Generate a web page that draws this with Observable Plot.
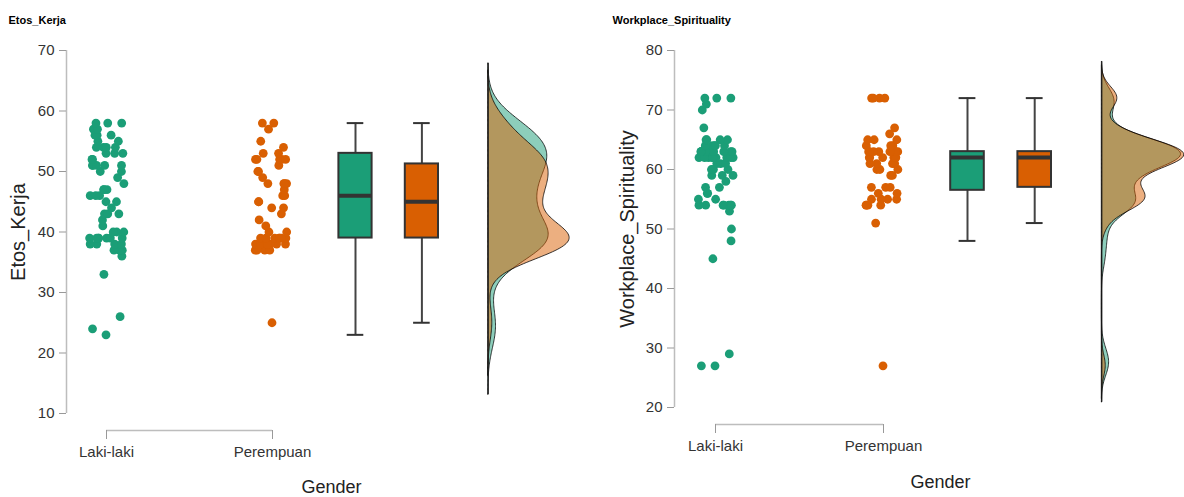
<!DOCTYPE html>
<html>
<head>
<meta charset="utf-8">
<script src="https://cdn.jsdelivr.net/npm/d3@7"></script>
<script src="https://cdn.jsdelivr.net/npm/@observablehq/plot@0.6"></script>
<style>
  html, body { margin: 0; padding: 0; background: #fff; }
  #wrap { display: flex; width: 1184px; height: 497px; }
  svg { font-family: "Liberation Sans", Arial, sans-serif; color: #333; }
</style>
</head>
<body>
<div id="wrap"></div>
<script>
// ---------------- data ----------------
const genders = ["Laki-laki", "Perempuan"];

const etosLaki = [23,24,26,33,36,37,37,37,37,38,38,38,38,39,39,39,39,39,39,39,40,40,40,41,42,43,43,43,44,45,45,46,46,46,47,47,47,48,49,50,50,51,51,51,51,51,52,52,53,53,53,54,54,54,54,55,55,56,56,56,57,57,58,58,58];
const etosPerempuan = [25,37,37,37,37,38,38,38,38,38,38,39,39,39,39,39,39,39,40,40,41,42,43,44,44,45,45,46,46,47,48,48,48,48,49,50,50,51,52,52,52,52,52,53,53,54,55,57,58,58];

const wsLaki = [27,27,29,45,48,50,53,54,54,54,54,54,54,54,55,55,56,56,57,57,58,59,59,59,60,60,60,61,61,61,62,62,62,62,62,62,62,62,62,62,63,63,63,63,63,63,63,63,63,63,64,64,64,64,64,65,65,65,65,67,70,71,72,72,72];
const wsPerempuan = [27,51,54,54,54,54,55,55,55,55,56,56,57,57,57,59,59,60,60,60,61,61,61,61,62,62,62,62,62,62,63,63,63,63,63,63,63,63,64,64,64,65,65,65,66,67,72,72,72,72];

// box statistics [lower whisker, Q1, median, Q3, upper whisker]
const etosBoxLaki = [23, 39, 46, 53, 58];
const etosBoxPerempuan = [25, 39, 45, 51.25, 58];
const wsBoxLaki = [48, 56.5, 62, 63, 72];
const wsBoxPerempuan = [51, 57, 62, 63, 72];

const etosTicks = [10, 20, 30, 40, 50, 60, 70];
const wsTicks = [20, 30, 40, 50, 60, 70, 80];

const colors = ["#1b9e77", "#d95f02"];

// ---------------- helpers ----------------
function bwNrd0(v) {
  const sd = d3.deviation(v);
  const q = d3.quantile(v, 0.75) - d3.quantile(v, 0.25);
  const lo = Math.min(sd, q / 1.34);
  return 0.9 * lo * Math.pow(v.length, -0.2);
}
function kde(v) {
  const bw = bwNrd0(v);
  const a = d3.min(v) - 3 * bw, b = d3.max(v) + 3 * bw;
  const n = 256, out = [];
  for (let i = 0; i < n; i++) {
    const y = a + (b - a) * i / (n - 1);
    let s = 0;
    for (const x of v) { const z = (y - x) / bw; s += Math.exp(-0.5 * z * z); }
    out.push({y, d: s / (v.length * bw * Math.sqrt(2 * Math.PI))});
  }
  return out;
}
function jitter(values, center, seed) {
  const rnd = d3.randomUniform.source(d3.randomLcg(seed))(-0.105, 0.105);
  return values.map(v => ({x: center + rnd(), y: v}));
}

function panel(cfg) {
  const {title, ylabel, laki, per, boxL, boxP, ticks, width, marginLeft, marginBottom, pxPerUnit, titleDx, ylabelX, genderDx, genderDy} = cfg;
  const height = 497, marginTop = 50, marginRight = 4;
  const xLo = 1 - (cfg.lakiPx - marginLeft) / pxPerUnit;
  const xHi = xLo + (width - marginRight - marginLeft) / pxPerUnit;
  const yMin = ticks[0], yMax = ticks[ticks.length - 1];
  const boxPos = [2.5, 2.9], base = 3.3;
  const kL = kde(laki), kP = kde(per);
  const maxD = Math.max(d3.max(kL, d => d.d), d3.max(kP, d => d.d));
  const scale = 0.49 / maxD;
  const densMarks = (k, c) => Plot.areaX(k, {
    y: "y", x1: base, x2: d => base + d.d * scale,
    fill: c, fillOpacity: 0.5, stroke: "#000", strokeWidth: 0.9, strokeOpacity: 0.85
  });
  const boxMarks = (b, pos, c) => [
    Plot.ruleX([pos], {y1: b[0], y2: b[4], stroke: "#444", strokeWidth: 2}),
    Plot.ruleY([b[0], b[4]], {y: d => d, x1: pos - 0.05, x2: pos + 0.05, stroke: "#333", strokeWidth: 2}),
    Plot.rect([b], {x1: pos - 0.1, x2: pos + 0.1, y1: d => d[1], y2: d => d[3], fill: c, stroke: "#333", strokeWidth: 2}),
    Plot.ruleY([b[2]], {x1: pos - 0.1, x2: pos + 0.1, stroke: "#333", strokeWidth: 4})
  ];
  const allDens = kL.concat(kP);
  return Plot.plot({
    width, height, marginTop, marginRight, marginLeft, marginBottom,
    x: {domain: [xLo, xHi], axis: null},
    y: {domain: [yMin, yMax], axis: null},
    marks: [
      // y axis
      Plot.ruleX([xLo], {y1: yMin, y2: yMax, stroke: "#bdbdbd", strokeWidth: 1.5}),
      Plot.axisY({ticks, tickSize: 7, tickPadding: 5, fontSize: 15, stroke: "#999", fill: "#333", label: null}),
      // x bracket axis
      Plot.ruleY([yMin], {x1: 1, x2: 2, dy: 17, stroke: "#bdbdbd", strokeWidth: 1.5}),
      Plot.axisX({ticks: [1, 2], tickFormat: d => genders[d - 1], tickSize: 9, tickPadding: 7, dy: 17, fontSize: 15, stroke: "#999", fill: "#333", label: null}),
      // labels
      Plot.text([ylabel], {frameAnchor: "left", dx: -(marginLeft - ylabelX), rotate: -90, textAnchor: "middle", fontSize: 20, fill: "#222"}),
      Plot.text(["Gender"], {frameAnchor: "bottom", dx: genderDx, dy: genderDy, fontSize: 18, fill: "#222"}),
      Plot.text([title], {frameAnchor: "top-left", dx: titleDx - marginLeft, dy: 16 - marginTop, textAnchor: "start", fontSize: 11, fontWeight: "bold", fill: "#000"}),
      // points
      Plot.dot(jitter(laki, 1, 0.17), {x: "x", y: "y", r: 4.4, fill: colors[0]}),
      Plot.dot(jitter(per, 2, 0.61), {x: "x", y: "y", r: 4.4, fill: colors[1]}),
      // boxes
      ...boxMarks(boxL, boxPos[0], colors[0]),
      ...boxMarks(boxP, boxPos[1], colors[1]),
      // densities
      densMarks(kL, colors[0]),
      densMarks(kP, colors[1]),
      Plot.ruleX([base], {y1: d3.min(allDens, d => d.y), y2: d3.max(allDens, d => d.y), stroke: "#222", strokeWidth: 1})
    ]
  });
}

const wrap = document.getElementById("wrap");
wrap.append(panel({
  title: "Etos_Kerja", ylabel: "Etos_Kerja", laki: etosLaki, per: etosPerempuan,
  boxL: etosBoxLaki, boxP: etosBoxPerempuan, ticks: etosTicks,
  width: 600, marginLeft: 66, marginBottom: 84, pxPerUnit: 166, lakiPx: 106, titleDx: 8,
  ylabelX: 18, genderDx: 0, genderDy: 79
}));
wrap.append(panel({
  title: "Workplace_Spirituality", ylabel: "Workplace_Spirituality", laki: wsLaki, per: wsPerempuan,
  boxL: wsBoxLaki, boxP: wsBoxPerempuan, ticks: wsTicks,
  width: 584, marginLeft: 74, marginBottom: 90, pxPerUnit: 168, lakiPx: 115, titleDx: 12,
  ylabelX: 27, genderDx: 13, genderDy: 80
}));
</script>
</body>
</html>
